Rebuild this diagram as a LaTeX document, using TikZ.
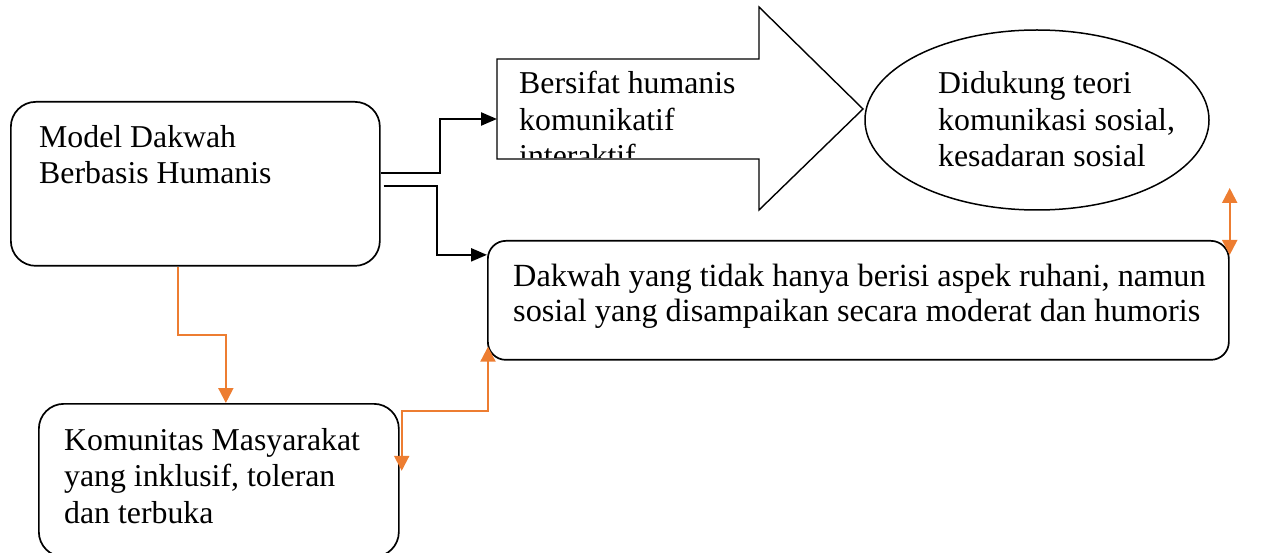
\documentclass[tikz,border=0pt]{standalone}
\usepackage{fontspec}
\setmainfont{Liberation Serif}
\usetikzlibrary{arrows.meta,shapes.geometric}
\definecolor{oranye}{HTML}{ED7D31}
\begin{document}
\begin{tikzpicture}[x=1pt, y=-1pt,
        box/.style={draw, line width=1.7pt, rounded corners=25pt, inner sep=0pt, anchor=north west},
        txt/.style={font=\fontsize{31.8}{36.5}\selectfont, align=left, inner sep=0pt, anchor=base west},
        link/.style={line width=2.3pt, -{Triangle[length=16pt,width=13pt]}},
        olink/.style={oranye, line width=2.1pt, -{Triangle[length=15pt,width=15pt]}},
        olinkb/.style={oranye, line width=2.1pt, {Triangle[length=15pt,width=15pt]}-{Triangle[length=15pt,width=15pt]}}
    ]
    \useasboundingbox (0,0) rectangle (1264,553);

    % Kotak-kotak
    \node[box, minimum width=369pt, minimum height=164pt] (model) at (10,101) {};
    \node[box, rounded corners=18pt, minimum width=741pt, minimum height=119pt] (dakwah) at (487,240) {};
    \node[box, minimum width=360pt, minimum height=153pt] (komunitas) at (38,403) {};
    \node[draw, ellipse, line width=1.5pt, minimum width=344pt, minimum height=180pt, inner sep=0pt] (teori) at (1037,120) {};

    % Panah besar
    \draw[line width=1.4pt] (497,59) -- (759,59) -- (759,7) -- (863,109) -- (759,210) -- (759,159) -- (497,159) -- cycle;
    \coordinate (sifat) at (497,119);

    % Teks (titik = garis dasar baris terakhir)
    \node[txt] (t1) at (39,184) {Model Dakwah\\Berbasis Humanis};
    \begin{scope}
        \clip (497,59) rectangle (759,158);
        \node[txt] (t2) at (519,167) {Bersifat humanis\\komunikatif\\interaktif};
    \end{scope}
    \node[txt] (t3) at (938,167) {Didukung teori\\komunikasi sosial,\\kesadaran sosial};
    \node[txt, font=\fontsize{32.3}{35.5}\selectfont] (t4) at (513,322) {Dakwah yang tidak hanya berisi aspek ruhani, namun\\sosial yang disampaikan secara moderat dan humoris};
    \node[txt] (t5) at (64,523) {Komunitas Masyarakat\\yang inklusif, toleran\\dan terbuka};

    % Garis hitam
    \draw[link] ([yshift=11pt]model.east) -- ++(59,0) |- (sifat);
    \draw[link] ([xshift=3pt,yshift=-2pt]model.east) -- ++(53,0) |- ([yshift=45.5pt]dakwah.west);

    % Garis oranye
    \draw[olink] ([xshift=-17.5pt]model.south) -- ++(0,68) -| ([xshift=7pt]komunitas.north);
    \draw[olinkb] ([xshift=1pt,yshift=14pt]dakwah.south west) -- ++(0,64) -| ([xshift=2pt,yshift=9.5pt]komunitas.east);
    \draw[olinkb] ([yshift=52pt]dakwah.north east) -- ([yshift=-15pt]dakwah.north east);
\end{tikzpicture}
\end{document}
